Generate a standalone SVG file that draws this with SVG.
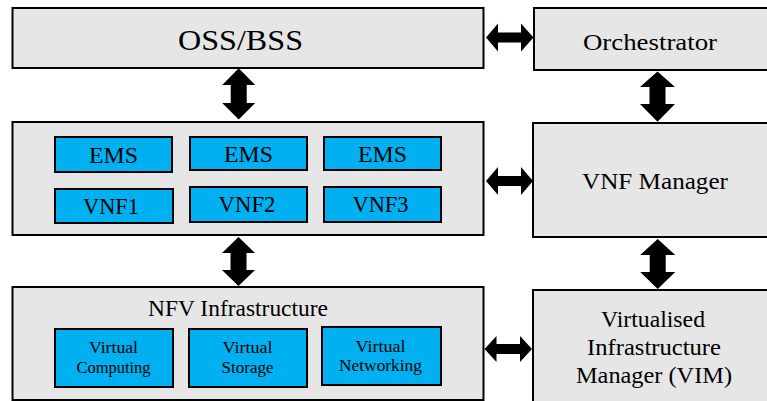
<svg xmlns="http://www.w3.org/2000/svg" width="767" height="401" viewBox="0 0 767 401">
  <style>
    .block { fill: #e6e6e6; stroke: #000; stroke-width: 2; }
    .unit { fill: #00b0f0; stroke: #000; stroke-width: 2; }
    .arrow { fill: #000; stroke: none; }
    .t { font-family: 'Liberation Serif', 'DejaVu Serif', serif; fill: #000; text-anchor: middle; }
    .big { font-size: 29px; }
    .mid { font-size: 24px; }
    .lbl { font-size: 23px; }
    .small { font-size: 16.5px; }
  </style>
  <rect width="767" height="401" fill="#fff"/>

  <g class="t">
  <g id="oss-bss">
    <rect class="block" x="12.5" y="8" width="471" height="60"/>
    <text class="big" x="240.5" y="50" textLength="125" lengthAdjust="spacingAndGlyphs">OSS/BSS</text>
  </g>

  <g id="orchestrator">
    <rect class="block" x="534" y="8" width="250" height="62"/>
    <text class="mid" x="650" y="50" textLength="134" lengthAdjust="spacingAndGlyphs">Orchestrator</text>
  </g>

  <g id="vnf-layer">
    <rect class="block" x="12.5" y="122" width="471" height="113"/>
    <g id="ems1">
      <rect class="unit" x="55" y="137" width="117" height="35"/>
      <text class="lbl" x="113.5" y="162.5" textLength="49" lengthAdjust="spacingAndGlyphs">EMS</text>
    </g>
    <g id="ems2">
      <rect class="unit" x="190" y="137" width="117" height="33"/>
      <text class="lbl" x="248.5" y="161.5" textLength="49" lengthAdjust="spacingAndGlyphs">EMS</text>
    </g>
    <g id="ems3">
      <rect class="unit" x="324" y="137" width="117" height="33"/>
      <text class="lbl" x="382.5" y="161.5" textLength="49" lengthAdjust="spacingAndGlyphs">EMS</text>
    </g>
    <g id="vnf1">
      <rect class="unit" x="55" y="189" width="118" height="34"/>
      <text class="lbl" x="111" y="214" textLength="56" lengthAdjust="spacingAndGlyphs">VNF1</text>
    </g>
    <g id="vnf2">
      <rect class="unit" x="190" y="187" width="117" height="35"/>
      <text class="lbl" x="247" y="211.5" textLength="57" lengthAdjust="spacingAndGlyphs">VNF2</text>
    </g>
    <g id="vnf3">
      <rect class="unit" x="324" y="187" width="117" height="35"/>
      <text class="lbl" x="380.5" y="211.5" textLength="56" lengthAdjust="spacingAndGlyphs">VNF3</text>
    </g>
  </g>

  <g id="vnf-manager">
    <rect class="block" x="533" y="123" width="250" height="114"/>
    <text class="mid" x="655" y="189" textLength="146" lengthAdjust="spacingAndGlyphs">VNF Manager</text>
  </g>

  <g id="nfvi">
    <rect class="block" x="12.5" y="287" width="471" height="113"/>
    <text class="lbl" x="238" y="316" textLength="180" lengthAdjust="spacingAndGlyphs">NFV Infrastructure</text>
    <g id="virtual-computing">
      <rect class="unit" x="55" y="329" width="118" height="58"/>
      <text class="small" x="113.5" y="353" textLength="49" lengthAdjust="spacingAndGlyphs">Virtual</text>
      <text class="small" x="113.5" y="373" textLength="74" lengthAdjust="spacingAndGlyphs">Computing</text>
    </g>
    <g id="virtual-storage">
      <rect class="unit" x="189" y="329" width="118" height="58"/>
      <text class="small" x="247.5" y="353" textLength="50" lengthAdjust="spacingAndGlyphs">Virtual</text>
      <text class="small" x="247.5" y="373" textLength="52" lengthAdjust="spacingAndGlyphs">Storage</text>
    </g>
    <g id="virtual-networking">
      <rect class="unit" x="322" y="327" width="119" height="58"/>
      <text class="small" x="380.5" y="351.5" textLength="50" lengthAdjust="spacingAndGlyphs">Virtual</text>
      <text class="small" x="380.5" y="370.5" textLength="83" lengthAdjust="spacingAndGlyphs">Networking</text>
    </g>
  </g>

  <g id="vim">
    <rect class="block" x="533" y="290" width="250" height="130"/>
    <text class="lbl" x="653" y="327" textLength="104" lengthAdjust="spacingAndGlyphs">Virtualised</text>
    <text class="lbl" x="654" y="355" textLength="134" lengthAdjust="spacingAndGlyphs">Infrastructure</text>
    <text class="lbl" x="654" y="383" textLength="156" lengthAdjust="spacingAndGlyphs">Manager (VIM)</text>
  </g>
  </g>

  <g id="connectors">
    <!-- OSS/BSS to VNF layer -->
    <polygon class="arrow" points="238.7,68.3 255.2,85 246.7,85 246.7,103 255.2,103 238.7,119.5 222.2,103 230.7,103 230.7,85 222.2,85"/>
    <!-- VNF layer to NFVI -->
    <polygon class="arrow" points="238.5,237 255,253 246.5,253 246.5,270 255,270 238.5,286 222,270 230.5,270 230.5,253 222,253"/>
    <!-- Orchestrator to VNF Manager -->
    <polygon class="arrow" points="657.5,71.5 675,87 665.5,87 665.5,104 675,104 657.5,121.7 640,104 649.5,104 649.5,87 640,87"/>
    <!-- VNF Manager to VIM -->
    <polygon class="arrow" points="657.7,239 675.2,255 665.7,255 665.7,272 675.2,272 657.7,289 640.2,272 649.7,272 649.7,255 640.2,255"/>
    <!-- OSS/BSS to Orchestrator -->
    <polygon class="arrow" points="486,37.5 498,23.5 498,32.5 521,32.5 521,23.5 533.5,37.5 521,51.5 521,42.5 498,42.5 498,51.5"/>
    <!-- VNF layer to VNF Manager -->
    <polygon class="arrow" points="486,181 498,167 498,176 521,176 521,167 533,181 521,195 521,186 498,186 498,195"/>
    <!-- NFVI to VIM -->
    <polygon class="arrow" points="484.5,349 496.5,336 496.5,344 520,344 520,336 532,349 520,362 520,354 496.5,354 496.5,362"/>
  </g>
</svg>
